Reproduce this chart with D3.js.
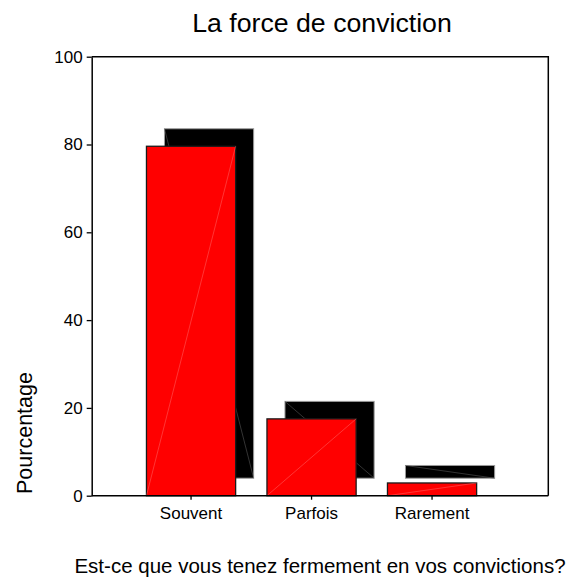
<!DOCTYPE html>
<html>
<head>
<meta charset="utf-8">
<script src="https://cdn.jsdelivr.net/npm/d3@7"></script>
<style>
  html, body { margin: 0; padding: 0; background: #fff; }
  svg { display: block; font-family: "Liberation Sans", Arial, sans-serif; }
</style>
</head>
<body>
<svg id="chart" width="568" height="580"></svg>
<script>
const categories = ["Souvent", "Parfois", "Rarement"];
const values = [79.6, 17.5, 2.9];
const yTicks = [0, 20, 40, 60, 80, 100];
const title = "La force de conviction";
const xTitle = "Est-ce que vous tenez fermement en vos convictions?";
const yTitle = "Pourcentage";

const W = 568, H = 580;
const plot = { left: 91.7, right: 548.3, top: 56.7, bottom: 495.7 };
const depth = { dx: 18, dy: -17.5 };

const svg = d3.select("#chart");

const x = d3.scaleBand()
  .domain(categories)
  .range([130.8, 492.3])
  .paddingInner(0.26)
  .paddingOuter(0.13);

const y = d3.scaleLinear()
  .domain([0, 100])
  .range([plot.bottom, plot.top]);

const data = categories.map((c, i) => ({ c, v: values[i] }));

// frame (top and right)
svg.append("path")
  .attr("d", `M${plot.left},${plot.top}H${plot.right}V${plot.bottom}`)
  .attr("fill", "none").attr("stroke", "#000").attr("stroke-width", 1.5);

// shadows
const sh = svg.append("g");
data.forEach(d => {
  const x0 = x(d.c) + depth.dx, x1 = x0 + x.bandwidth();
  const yt = y(d.v) + depth.dy, yb = y(0) + depth.dy;
  sh.append("rect")
    .attr("x", x0).attr("y", yt).attr("width", x1 - x0).attr("height", yb - yt)
    .attr("fill", "#000").attr("stroke", "#9a9a9a").attr("stroke-width", 1);
  sh.append("line")
    .attr("x1", x0).attr("y1", yt).attr("x2", x1).attr("y2", yb)
    .attr("stroke", "#555").attr("stroke-width", 0.6);
});

// bars
const bg = svg.append("g");
data.forEach(d => {
  const x0 = x(d.c), x1 = x0 + x.bandwidth();
  const yt = y(d.v), yb = y(0);
  bg.append("rect")
    .attr("x", x0).attr("y", yt).attr("width", x1 - x0).attr("height", yb - yt)
    .attr("fill", "#ff0000").attr("stroke", "#1a1a1a").attr("stroke-width", 1.3);
  bg.append("line")
    .attr("x1", x0).attr("y1", yb).attr("x2", x1).attr("y2", yt)
    .attr("stroke", "#ff6a6a").attr("stroke-width", 0.5);
});

// y axis
const yAxis = svg.append("g")
  .attr("transform", `translate(${plot.left},0)`)
  .call(d3.axisLeft(y).tickValues(yTicks).tickSize(5).tickPadding(4).tickSizeOuter(0));
yAxis.select(".domain").attr("stroke-width", 1.5);
yAxis.selectAll(".tick line").attr("stroke-width", 1.3);
yAxis.selectAll("text").attr("font-size", 17).attr("font-family", "Liberation Sans, Arial, sans-serif").attr("fill", "#000");

// x axis
const xAxis = svg.append("g")
  .attr("transform", `translate(0,${plot.bottom})`)
  .call(d3.axisBottom(x).tickSize(4).tickPadding(7).tickSizeOuter(0));
xAxis.select(".domain").attr("d", `M${plot.left},0H${plot.right}`).attr("stroke-width", 1.5);
xAxis.selectAll(".tick line").attr("stroke-width", 1.3);
xAxis.selectAll("text").attr("font-size", 17).attr("font-family", "Liberation Sans, Arial, sans-serif").attr("fill", "#000");

// titles
svg.append("text")
  .attr("x", 322).attr("y", 31.7)
  .attr("text-anchor", "middle").attr("font-size", 26.7)
  .text(title);

svg.append("text")
  .attr("x", 320).attr("y", 573)
  .attr("text-anchor", "middle").attr("font-size", 20.5)
  .text(xTitle);

svg.append("text")
  .attr("transform", `translate(32,433) rotate(-90)`)
  .attr("text-anchor", "middle").attr("font-size", 21.5)
  .text(yTitle);
</script>
</body>
</html>
